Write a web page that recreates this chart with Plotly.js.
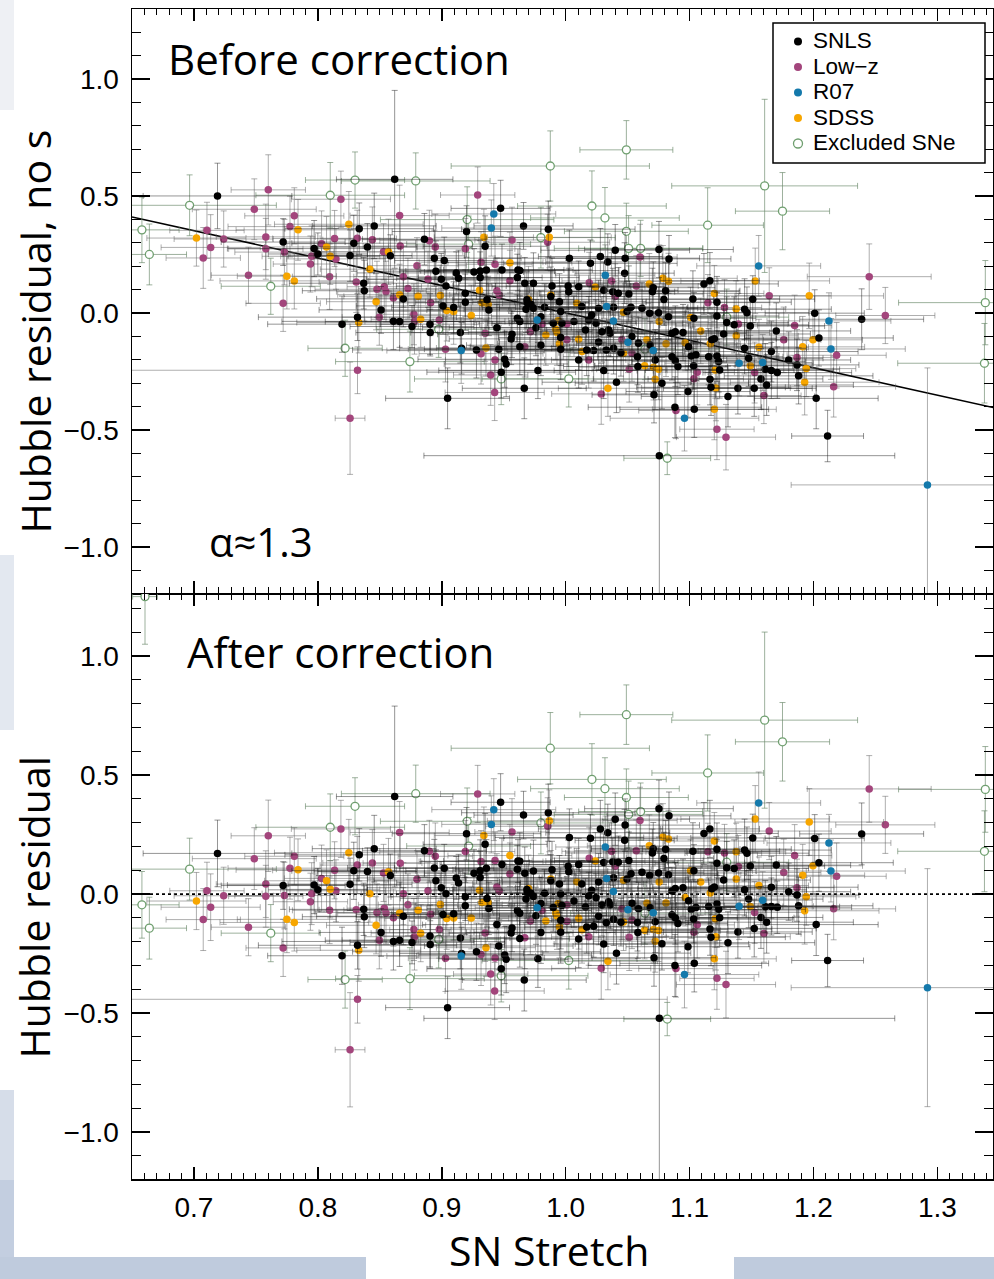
<!DOCTYPE html>
<html><head><meta charset="utf-8">
<script src="https://cdn.plot.ly/plotly-3.0.1.min.js"></script>
<style>html,body{margin:0;padding:0;background:#fff;} #chart{width:994px;height:1279px;}</style>
</head><body><div id="chart"></div>
<script>
// ---------------- DATA ----------------
// SNLS
const snlsS = [0.719,0.772,0.797,0.800,0.826,0.8195,0.832,0.9047,0.862,0.9475,
0.920,0.935,0.966,0.986,0.8455,0.8334,0.840,0.829,0.8585,0.886,
0.894,0.902,0.8953,0.8996,0.9117,0.9136,0.9034,0.837,0.8375,0.869,
0.851,0.861,0.866,0.876,0.8905,0.8907,0.901,0.9096,0.919,0.919,
0.931,0.931,0.926,0.936,0.9486,0.9615,0.963,0.961,0.967,0.974,
0.9365,0.938,0.9445,0.915,0.928,0.916,0.946,0.9508,0.952,0.948,
0.9666,0.9776,0.9567,0.956,0.963,0.961,0.963,0.969,0.9687,0.972,
0.974,0.968,0.976,0.980,0.980,0.983,0.989,0.988,0.990,0.995,
0.996,0.997,0.996,0.996,1.003,1.002,1.0025,1.0756,1.040,1.028,
1.020,1.034,1.048,1.0476,1.0753,1.0834,1.0105,1.0307,1.038,1.0425,
1.051,1.0707,1.070,1.0807,1.0793,1.013,1.0266,1.0387,1.0495,1.0527,
1.0616,1.0678,1.083,1.075,1.021,1.0186,1.0067,1.016,1.0245,1.0293,
1.0347,1.036,1.0266,1.017,1.0226,1.0105,1.0328,1.0387,1.0535,1.0446,
1.058,1.0588,1.0683,1.0723,1.0583,1.0307,1.041,1.0777,1.0713,1.0858,
1.0885,1.0947,1.0858,1.0885,1.0906,1.0882,1.1038,1.0987,1.1033,1.1014,
1.1052,1.0992,1.1027,1.1035,1.1116,1.1164,1.1221,1.1221,1.1275,1.118,
1.120,1.1154,1.1221,1.1235,1.1243,1.1165,1.1173,1.131,1.130,1.136,
1.1444,1.1463,1.149,1.151,1.170,1.166,1.1444,1.1477,1.1576,1.1611,
1.166,1.1708,1.1622,1.1522,1.139,1.180,1.201,1.2389,1.2044,1.1867,
1.188,1.2022,1.2114];
const snlsNoS = [0.50,0.303,0.275,0.252,0.245,-0.048,-0.018,-0.365,0.571,0.447,
0.348,0.285,0.372,0.358,0.372,0.360,0.282,0.298,0.244,0.315,
0.234,0.224,0.178,0.144,0.171,0.148,0.115,0.127,0.095,0.060,
0.013,-0.036,-0.037,-0.058,-0.048,-0.084,0.030,0.023,0.084,0.046,
0.151,0.179,0.175,0.184,0.184,0.184,0.181,0.151,0.127,0.127,
0.056,0.013,-0.063,-0.084,-0.158,-0.151,-0.155,-0.198,-0.218,-0.253,
-0.322,-0.246,-0.091,-0.111,-0.144,-0.023,-0.037,0.044,0.056,0.037,
0.020,0.016,-0.063,-0.016,-0.138,0.024,0.115,0.070,-0.044,0.048,
0.006,-0.044,-0.105,-0.155,0.234,0.115,0.091,-0.61,0.268,0.241,
0.212,0.218,0.234,0.170,0.271,0.231,0.112,0.097,0.091,0.084,
0.081,0.108,0.091,0.095,0.057,0.027,0.020,0.024,0.006,0.024,
0.020,-0.001,-0.016,0.001,-0.009,-0.030,-0.037,-0.073,-0.044,-0.080,
-0.073,-0.087,-0.124,-0.158,-0.161,-0.201,-0.158,-0.151,-0.101,-0.170,
-0.187,-0.130,-0.137,-0.201,-0.229,-0.246,-0.296,-0.300,-0.350,-0.087,
-0.080,-0.084,-0.187,-0.204,-0.229,-0.403,-0.412,-0.336,-0.226,-0.184,
-0.179,-0.144,0.060,-0.023,0.124,0.138,0.046,-0.013,-0.090,-0.115,
-0.110,-0.187,-0.184,-0.208,-0.244,-0.283,-0.318,-0.357,-0.041,-0.051,
0.016,0.001,-0.056,0.059,-0.077,-0.165,-0.151,-0.194,-0.282,-0.241,
-0.246,-0.255,-0.308,-0.322,-0.322,-0.201,-0.001,-0.027,-0.107,-0.222,
-0.269,-0.365,-0.526];
const snlsCorr = [0.171,0.036,0.038,0.018,0.041,-0.259,-0.215,-0.477,0.41,0.386,
0.254,0.209,0.332,0.342,0.191,0.165,0.095,0.098,0.078,0.182,
0.110,0.109,0.056,0.027,0.068,0.047,0.002,-0.064,-0.095,-0.093,
-0.161,-0.199,-0.194,-0.203,-0.176,-0.212,-0.086,-0.083,-0.011,-0.049,
0.070,0.098,0.088,0.109,0.124,0.139,0.138,0.105,0.088,0.097,
-0.018,-0.060,-0.128,-0.184,-0.242,-0.249,-0.218,-0.256,-0.274,-0.314,
-0.361,-0.272,-0.142,-0.163,-0.187,-0.069,-0.080,0.008,0.019,0.004,
-0.010,-0.021,-0.091,-0.039,-0.161,0.004,0.102,0.056,-0.056,0.042,
0.001,-0.048,-0.110,-0.160,0.238,0.117,0.094,-0.522,0.315,0.274,
0.235,0.258,0.290,0.226,0.359,0.329,0.124,0.133,0.136,0.134,
0.141,0.191,0.173,0.189,0.150,0.042,0.051,0.069,0.064,0.086,
0.092,0.078,0.081,0.089,0.016,-0.008,-0.029,-0.054,-0.015,-0.046,
-0.032,-0.045,-0.093,-0.138,-0.135,-0.189,-0.120,-0.106,-0.038,-0.118,
-0.119,-0.061,-0.057,-0.116,-0.161,-0.210,-0.248,-0.209,-0.267,0.013,
0.024,0.027,-0.087,-0.100,-0.123,-0.300,-0.291,-0.221,-0.105,-0.065,
-0.056,-0.028,0.180,0.098,0.255,0.274,0.189,0.130,0.059,0.023,
0.030,-0.052,-0.041,-0.064,-0.099,-0.147,-0.181,-0.204,0.111,0.108,
0.185,0.172,0.118,0.236,0.122,0.029,0.018,-0.021,-0.098,-0.053,
-0.052,-0.055,-0.118,-0.144,-0.159,0.010,0.234,0.253,0.132,-0.004,
-0.049,-0.128,-0.279];
const snlsErrS = [0.06,0.05,0.07,0.04,0.05,0.06,0.08,0.05,0.047,0.04,
0.06,0.05,0.04,0.07,0.05,0.06,0.04,0.05,0.06,0.05,
0.07,0.04,0.05,0.06,0.08,0.05,0.04,0.06,0.05,0.07,
0.05,0.09,0.06,0.05,0.04,0.06,0.07,0.05,0.06,0.04,
0.05,0.06,0.04,0.07,0.05,0.06,0.08,0.05,0.04,0.06,
0.07,0.05,0.06,0.04,0.10,0.05,0.06,0.07,0.05,0.06,
0.05,0.08,0.06,0.05,0.04,0.06,0.07,0.05,0.06,0.04,
0.06,0.05,0.07,0.04,0.06,0.05,0.08,0.06,0.05,0.07,
0.04,0.06,0.05,0.07,0.06,0.05,0.04,0.19,0.06,0.05,
0.07,0.05,0.06,0.04,0.06,0.05,0.07,0.06,0.05,0.04,
0.06,0.05,0.07,0.06,0.04,0.05,0.08,0.06,0.05,0.07,
0.05,0.06,0.04,0.07,0.05,0.06,0.05,0.04,0.07,0.06,
0.05,0.06,0.08,0.05,0.04,0.06,0.07,0.05,0.06,0.05,
0.06,0.05,0.07,0.05,0.06,0.04,0.06,0.07,0.05,0.06,
0.05,0.07,0.06,0.05,0.04,0.07,0.06,0.05,0.08,0.06,
0.05,0.06,0.07,0.05,0.06,0.04,0.06,0.05,0.07,0.06,
0.05,0.06,0.05,0.07,0.06,0.05,0.06,0.07,0.05,0.06,
0.07,0.05,0.06,0.05,0.06,0.07,0.05,0.06,0.05,0.06,
0.05,0.06,0.07,0.05,0.06,0.05,0.04,0.05,0.06,0.05,
0.06,0.05,0.029];
const snlsErrRes = [0.14,0.10,0.12,0.09,0.11,0.12,0.10,0.13,0.38,0.12,
0.11,0.13,0.10,0.12,0.14,0.11,0.10,0.12,0.09,0.11,
0.12,0.10,0.13,0.11,0.09,0.12,0.10,0.11,0.13,0.12,
0.10,0.12,0.11,0.09,0.13,0.10,0.12,0.11,0.10,0.12,
0.11,0.13,0.10,0.12,0.11,0.09,0.12,0.10,0.11,0.13,
0.12,0.11,0.10,0.13,0.12,0.11,0.10,0.12,0.14,0.11,
0.13,0.12,0.10,0.11,0.12,0.10,0.11,0.09,0.12,0.10,
0.11,0.10,0.12,0.11,0.13,0.10,0.12,0.11,0.10,0.12,
0.11,0.10,0.12,0.13,0.12,0.11,0.10,0.90,0.11,0.12,
0.10,0.12,0.11,0.13,0.12,0.10,0.11,0.12,0.10,0.11,
0.12,0.11,0.10,0.12,0.11,0.10,0.12,0.11,0.13,0.10,
0.11,0.12,0.10,0.11,0.12,0.10,0.11,0.12,0.10,0.13,
0.11,0.10,0.12,0.11,0.13,0.12,0.10,0.11,0.12,0.10,
0.12,0.11,0.10,0.13,0.11,0.12,0.13,0.11,0.12,0.10,
0.11,0.12,0.10,0.11,0.12,0.13,0.12,0.11,0.10,0.12,
0.11,0.10,0.12,0.11,0.13,0.12,0.11,0.10,0.12,0.11,
0.10,0.12,0.11,0.13,0.12,0.11,0.12,0.13,0.11,0.12,
0.13,0.11,0.12,0.10,0.12,0.13,0.11,0.12,0.13,0.11,
0.12,0.11,0.13,0.12,0.11,0.12,0.10,0.13,0.12,0.11,
0.12,0.13,0.11];

// Low-z
const lowzS = [0.7105,0.7135,0.7075,0.724,0.760,0.7487,0.744,0.758,0.758,0.781,
0.7775,0.772,0.773,0.794,0.795,0.803,0.8135,0.8146,0.8095,0.8186,
0.826,0.832,0.929,0.919,0.9567,0.9855,0.866,0.8318,0.844,0.8665,
0.853,0.890,0.8948,0.880,0.831,0.8477,0.8536,0.855,0.861,0.8727,
0.891,0.8889,0.869,0.8496,0.878,0.8775,0.898,0.903,0.9317,0.943,
0.955,0.9445,0.9464,0.9317,0.935,0.943,0.9395,0.9427,0.967,0.9715,
0.981,1.001,1.001,1.060,1.057,1.037,1.019,1.040,1.0186,1.0454,
1.0535,1.0513,1.0287,1.089,1.1035,1.1062,1.1148,1.1221,1.1294,1.1282,
1.1394,1.1643,1.176,1.1525,1.16,1.245,1.258,1.1848,1.2187,1.1867,
1.2163];
const lowzNoS = [0.353,0.28,0.235,0.316,0.526,0.443,0.161,0.325,0.274,0.415,
0.369,0.041,0.26,0.209,0.242,0.296,0.318,0.231,0.155,0.486,
-0.45,-0.245,0.504,0.274,0.312,0.302,0.416,0.319,0.313,0.286,
0.261,0.309,0.282,0.202,0.132,0.101,0.112,0.091,0.064,0.104,
0.043,0.144,0.155,-0.018,-0.036,-0.006,-0.030,-0.155,0.217,0.208,
0.138,0.095,0.077,-0.174,-0.087,-0.201,-0.265,-0.340,-0.144,-0.080,
-0.047,-0.115,-0.047,0.239,0.115,0.137,0.129,0.070,-0.201,-0.115,
-0.172,-0.241,-0.346,-0.417,-0.281,-0.253,0.044,-0.497,-0.531,0.023,
-0.047,0.073,-0.115,-0.255,-0.353,0.155,-0.011,-0.054,-0.181,-0.191,
-0.315];
const lowzCorr = [0.014,-0.055,-0.107,-0.007,0.245,0.149,-0.139,0.042,-0.009,0.159,
0.109,-0.226,-0.006,-0.032,0.002,0.066,0.100,0.014,-0.068,0.274,
-0.654,-0.442,0.421,0.179,0.261,0.285,0.259,0.122,0.131,0.130,
0.089,0.180,0.159,0.062,-0.066,-0.077,-0.059,-0.079,-0.099,-0.045,
-0.085,0.014,0.002,-0.194,-0.179,-0.149,-0.149,-0.269,0.137,0.141,
0.085,0.030,0.014,-0.254,-0.163,-0.268,-0.336,-0.407,-0.183,-0.113,
-0.069,-0.114,-0.046,0.309,0.182,0.180,0.151,0.117,-0.179,-0.062,
-0.109,-0.181,-0.312,-0.313,-0.160,-0.129,0.178,-0.354,-0.380,0.173,
0.116,0.265,0.091,-0.077,-0.166,0.442,0.291,0.162,0.075,0.027,
-0.062];
const lowzErrS = [0.03,0.04,0.03,0.04,0.03,0.05,0.03,0.04,0.03,0.04,
0.05,0.03,0.04,0.03,0.04,0.03,0.05,0.04,0.03,0.04,
0.012,0.25,0.03,0.04,0.03,0.05,0.04,0.03,0.04,0.03,
0.05,0.04,0.03,0.04,0.03,0.05,0.03,0.04,0.03,0.04,
0.03,0.05,0.04,0.03,0.04,0.03,0.04,0.03,0.05,0.03,
0.04,0.03,0.04,0.05,0.03,0.04,0.03,0.04,0.03,0.05,
0.04,0.03,0.04,0.03,0.05,0.04,0.03,0.04,0.03,0.04,
0.05,0.03,0.04,0.03,0.04,0.03,0.05,0.03,0.04,0.03,
0.04,0.05,0.03,0.04,0.03,0.05,0.04,0.03,0.04,0.03,
0.05];
const lowzErrRes = [0.12,0.14,0.13,0.12,0.15,0.13,0.12,0.14,0.13,0.12,
0.13,0.12,0.14,0.12,0.13,0.14,0.12,0.13,0.14,0.12,
0.24,0.10,0.12,0.13,0.14,0.12,0.13,0.12,0.14,0.13,
0.12,0.13,0.14,0.12,0.13,0.12,0.14,0.13,0.12,0.13,
0.14,0.12,0.13,0.12,0.14,0.13,0.12,0.14,0.13,0.12,
0.13,0.14,0.12,0.13,0.12,0.14,0.13,0.12,0.13,0.14,
0.12,0.13,0.12,0.14,0.13,0.12,0.13,0.14,0.12,0.13,
0.12,0.14,0.13,0.12,0.13,0.14,0.12,0.13,0.14,0.12,
0.13,0.12,0.14,0.13,0.12,0.14,0.12,0.13,0.14,0.12,
0.13];

// SDSS
const sdssS = [0.702,0.784,0.775,0.781,0.807,0.810,0.825,0.833,0.934,0.9868,
0.857,0.842,0.866,0.847,0.881,0.8988,0.883,0.904,0.9096,0.9305,
0.955,0.9325,0.9375,0.9238,0.9357,0.970,0.984,0.988,0.992,0.993,
0.994,0.995,1.0785,1.083,1.0675,1.024,1.009,1.0467,1.0755,1.0105,
1.0132,1.0467,1.0656,1.0637,1.0709,1.075,1.0341,1.0723,1.081,1.0965,
1.1008,1.109,1.12,1.1167,1.1207,1.1213,1.12,1.1376,1.1377,1.153,
1.156,1.149,1.1966,1.1996,1.1913,1.1942,1.1929];
const sdssNoS = [0.32,0.355,0.157,0.137,0.282,0.242,0.379,-0.041,0.323,0.323,
0.261,0.187,0.078,0.048,0.071,0.074,-0.027,0.010,0.006,0.097,
0.215,0.044,0.037,-0.011,-0.150,0.059,-0.094,0.077,-0.070,-0.084,
-0.033,-0.132,0.148,0.135,0.124,0.111,0.041,0.003,-0.037,-0.113,
-0.165,-0.172,-0.115,-0.226,-0.232,-0.241,-0.322,-0.283,-0.132,-0.127,
-0.020,-0.077,0.083,-0.132,-0.244,-0.321,-0.412,0.017,-0.098,0.137,
-0.147,-0.226,0.073,-0.115,-0.145,-0.238,-0.296];
const sdssCorr = [-0.029,0.102,-0.106,-0.119,0.056,0.020,0.174,-0.236,0.246,0.308,
0.094,0.002,-0.079,-0.131,-0.068,-0.044,-0.164,-0.102,-0.100,0.016,
0.162,-0.035,-0.036,-0.100,-0.225,0.024,-0.113,0.063,-0.079,-0.092,
-0.040,-0.138,0.240,0.232,0.203,0.139,0.052,0.058,0.051,-0.101,
-0.150,-0.117,-0.038,-0.152,-0.149,-0.153,-0.282,-0.198,-0.037,-0.014,
0.098,0.051,0.223,0.005,-0.103,-0.179,-0.272,0.178,0.063,0.316,
0.036,-0.052,0.303,0.119,0.079,-0.011,-0.070];
const sdssErrS = [0.04,0.05,0.04,0.06,0.05,0.04,0.06,0.05,0.04,0.05,
0.06,0.04,0.05,0.04,0.06,0.05,0.04,0.05,0.06,0.04,
0.05,0.06,0.04,0.05,0.04,0.06,0.05,0.04,0.05,0.06,
0.04,0.05,0.06,0.04,0.05,0.04,0.06,0.05,0.04,0.05,
0.06,0.04,0.05,0.04,0.06,0.05,0.04,0.05,0.06,0.04,
0.05,0.06,0.04,0.05,0.04,0.06,0.05,0.04,0.05,0.06,
0.04,0.05,0.06,0.04,0.05,0.04,0.06];
const sdssErrRes = [0.12,0.13,0.14,0.12,0.13,0.12,0.14,0.13,0.12,0.13,
0.14,0.12,0.13,0.12,0.14,0.13,0.12,0.13,0.14,0.12,
0.13,0.14,0.12,0.13,0.12,0.14,0.13,0.12,0.13,0.14,
0.12,0.13,0.14,0.12,0.13,0.12,0.14,0.13,0.12,0.13,
0.14,0.12,0.13,0.12,0.14,0.13,0.12,0.13,0.14,0.12,
0.13,0.14,0.12,0.13,0.12,0.14,0.13,0.12,0.13,0.14,
0.12,0.13,0.14,0.12,0.13,0.12,0.14];

// R07
const r07S = [0.942,0.940,0.9157,0.977,1.032,1.033,1.0385,1.0503,1.0707,1.0959,1.1558,1.159,1.140,1.2125,1.2141,1.292];
const r07NoS = [0.423,0.363,-0.161,-0.030,0.161,0.027,-0.034,-0.125,-0.161,-0.450,0.201,-0.212,-0.215,-0.034,-0.154,-0.735];
const r07Corr = [0.355,0.293,-0.260,-0.057,0.198,0.066,0.011,-0.066,-0.078,-0.338,0.383,-0.026,-0.051,0.215,0.097,-0.393];
const r07ErrS = [0.05,0.04,0.06,0.05,0.04,0.05,0.06,0.04,0.05,0.06,0.05,0.04,0.06,0.05,0.06,0.11];
const r07ErrRes = [0.13,0.12,0.14,0.12,0.13,0.12,0.14,0.13,0.12,0.14,0.13,0.12,0.14,0.12,0.13,0.50];

// Excluded SNe
const exclS = [0.6605,0.658,0.664,0.6965,0.762,0.810,0.822,0.8743,0.830,0.879,0.9876,0.9205,0.9217,0.980,0.8975,0.948,1.0025,1.049,1.0212,1.0317,1.049,1.1146,1.1606,1.175,1.0508,1.0605,1.130,1.064,1.082,1.3387,1.338];
const exclNoS = [1.647,0.355,0.25,0.46,0.114,0.503,-0.151,-0.208,0.568,0.564,0.628,0.399,0.294,0.322,-0.070,-0.282,-0.282,0.697,0.457,0.406,0.349,0.375,0.543,0.435,0.276,0.276,-0.018,-0.155,-0.621,0.044,-0.215];
const exclCorr = [1.25,-0.045,-0.143,0.105,-0.164,0.281,-0.359,-0.355,0.369,0.422,0.613,0.306,0.202,0.299,-0.190,-0.343,-0.279,0.754,0.482,0.443,0.406,0.509,0.731,0.640,0.335,0.347,0.134,-0.080,-0.525,0.44,0.18];
const exclErrS = [0.01,0.03,0.03,0.07,0.04,0.06,0.03,0.06,0.04,0.06,0.08,0.07,0.05,0.06,0.05,0.07,0.07,0.0375,0.06,0.06,0.05,0.045,0.075,0.038,0.06,0.05,0.05,0.06,0.035,0.07,0.07];
const exclErrRes = [0.2,0.14,0.13,0.13,0.12,0.14,0.12,0.13,0.12,0.12,0.15,0.14,0.12,0.13,0.12,0.11,0.12,0.125,0.15,0.13,0.12,0.16,0.37,0.165,0.14,0.12,0.12,0.13,0.07,0.18,0.17];

// Fit line (before correction) and zero reference (after correction)
const fitS = [0.65, 1.35];
const fitRes = [0.41, -0.41];
const zeroS = [0.65, 1.35];
const zeroRes = [0, 0];

const xTickVals = [0.7, 0.8, 0.9, 1.0, 1.1, 1.2, 1.3];
const yTickVals = [-1.0, -0.5, 0.0, 0.5, 1.0];
const legendLabels = ['SNLS', 'Low\u2212z', 'R07', 'SDSS', 'Excluded SNe'];

// ---------------- LAYOUT HELPERS ----------------
const W = 994, H = 1279, ML = 132, MR = 1, MT = 9, MB = 100;
const PW = W - ML - MR, PH = H - MT - MB;
const xp = px => (px - ML) / PW;
const yp = py => (H - MB - py) / PH;

const COLORS = {SNLS:'#000000', 'Low\u2212z':'#a3457c', R07:'#1479ab', SDSS:'#f7a600', 'Excluded SNe':'#6f9f6f'};

const groups = [
  {name:'Excluded SNe', s:exclS, es:exclErrS, r0:exclNoS, r1:exclCorr, er:exclErrRes, open:true, ec:'rgba(105,135,105,0.65)'},
  {name:'Low\u2212z', s:lowzS, es:lowzErrS, r0:lowzNoS, r1:lowzCorr, er:lowzErrRes, ec:'rgba(95,95,95,0.5)'},
  {name:'SDSS', s:sdssS, es:sdssErrS, r0:sdssNoS, r1:sdssCorr, er:sdssErrRes, ec:'rgba(95,95,95,0.5)'},
  {name:'SNLS', s:snlsS, es:snlsErrS, r0:snlsNoS, r1:snlsCorr, er:snlsErrRes, ec:'rgba(20,20,20,0.45)'},
  {name:'R07', s:r07S, es:r07ErrS, r0:r07NoS, r1:r07Corr, er:r07ErrRes, ec:'rgba(95,95,95,0.5)'}
];

const traces = [];
traces.push({x:fitS, y:fitRes, xaxis:'x', yaxis:'y', mode:'lines', line:{color:'black', width:1.6}, showlegend:false, hoverinfo:'skip'});
traces.push({x:zeroS, y:zeroRes, xaxis:'x2', yaxis:'y2', mode:'lines', line:{color:'black', width:1.8, dash:'dot'}, showlegend:false, hoverinfo:'skip'});

groups.forEach(g => {
  const c = COLORS[g.name];
  const marker = g.open ? {size:8, color:'white', line:{color:c, width:1.3}} : {size:7.5, color:c};
  [['x','y',g.r0],['x2','y2',g.r1]].forEach(([xa,ya,yv]) => {
    traces.push({
      x:g.s, y:yv, xaxis:xa, yaxis:ya, type:'scatter', mode:'markers', name:g.name,
      showlegend:false, cliponaxis:true, marker:marker,
      error_x:{type:'data', array:g.es, visible:true, color:g.ec, thickness:1, width:3},
      error_y:{type:'data', array:g.er, visible:true, color:g.ec, thickness:1, width:3}
    });
  });
});

const tickFont = {family:'Liberation Sans, Arial, Helvetica, sans-serif', size:28, color:'black'};
const xBase = {
  range:[0.65, 1.3449], showgrid:false, zeroline:false, showline:true, linecolor:'black', linewidth:1.5,
  mirror:'ticks', ticks:'inside', ticklen:12, tickwidth:1.5, tickcolor:'black',
  tickmode:'array', tickvals:xTickVals, ticktext:xTickVals.map(v=>v.toFixed(1)),
  minor:{dtick:0.01, tick0:0, ticklen:6, tickwidth:1, tickcolor:'black', ticks:'inside', showgrid:false},
  tickfont:tickFont
};
const yBase = {
  showgrid:false, zeroline:false, showline:true, linecolor:'black', linewidth:1.5,
  mirror:'ticks', ticks:'inside', ticklen:18, tickwidth:1.5, tickcolor:'black',
  tickmode:'array', tickvals:yTickVals, ticktext:yTickVals.map(v=>(v<0?'\u2212':'')+Math.abs(v).toFixed(1)),
  minor:{dtick:0.1, tick0:0, ticklen:9, tickwidth:1, tickcolor:'black', ticks:'inside', showgrid:false},
  tickfont:tickFont, ticklabelstandoff:6
};

const titleFont = {family:'Open Sans, Lato, sans-serif', size:42, color:'black'};
const annotations = [
  {text:'Before correction', xref:'paper', yref:'paper', x:xp(166), y:yp(58.7), xanchor:'left', yanchor:'middle', showarrow:false, font:titleFont},
  {text:'After correction', xref:'paper', yref:'paper', x:xp(185), y:yp(651.7), xanchor:'left', yanchor:'middle', showarrow:false, font:titleFont},
  {text:'\u03b1\u22481.3', xref:'paper', yref:'paper', x:xp(207), y:yp(541.5), xanchor:'left', yanchor:'middle', showarrow:false, font:{family:'Open Sans, sans-serif', size:40, color:'black'}},
  {text:'Hubble residual, no s', xref:'paper', yref:'paper', x:xp(34), y:yp(331.5), xanchor:'center', yanchor:'middle', textangle:-90, showarrow:false, font:{family:'Open Sans, sans-serif', size:41, color:'black'}},
  {text:'Hubble residual', xref:'paper', yref:'paper', x:xp(34), y:yp(907.5), xanchor:'center', yanchor:'middle', textangle:-90, showarrow:false, font:{family:'Open Sans, sans-serif', size:41, color:'black'}},
  {text:'SN Stretch', xref:'paper', yref:'paper', x:xp(549), y:yp(1250), xanchor:'center', yanchor:'middle', showarrow:false, borderpad:0, font:{family:'Open Sans, sans-serif', size:41, color:'black'}}
];

const rectPx = (x0,x1,y0,y1,c,extra) => Object.assign({type:'rect', xref:'paper', yref:'paper', x0:xp(x0), x1:xp(x1), y0:yp(y1), y1:yp(y0), fillcolor:c, line:{width:0}, layer:'below'}, extra||{});
const shapes = [
  rectPx(0,14,0,110,'#eef0f4'),
  rectPx(0,14,555,730,'#e3e8f0'),
  rectPx(0,14,1090,1180,'#d6dde9'),
  rectPx(0,14,1180,1279,'#c3cee0'),
  rectPx(0,366,1257,1279,'#bfcbdd'),
  rectPx(734,994,1257,1279,'#bfcbdd'),
  // legend box
  rectPx(773,985,23,163,'white',{layer:'above', line:{color:'black', width:1.5}})
];

// legend entries (box drawn above the data, like the reference)
const rowY = [41.5, 67, 92.5, 118, 143.5];
legendLabels.forEach((lab, i) => {
  const c = COLORS[lab];
  const open = lab === 'Excluded SNe';
  const r = open ? 4.5 : 4;
  shapes.push({type:'circle', xref:'paper', yref:'paper', layer:'above',
    x0:xp(798-r), x1:xp(798+r), y0:yp(rowY[i]+r), y1:yp(rowY[i]-r),
    fillcolor: open ? 'white' : c, line: open ? {color:c, width:1.3} : {width:0}});
  annotations.push({text:lab, xref:'paper', yref:'paper', x:xp(812), y:yp(rowY[i]-1), xanchor:'left', yanchor:'middle',
    showarrow:false, borderpad:0, font:{family:'Liberation Sans, Arial, sans-serif', size:22.5, color:'black'}});
});

const layout = {
  width:W, height:H, margin:{l:ML, r:MR, t:MT, b:MB},
  paper_bgcolor:'white', plot_bgcolor:'white',
  showlegend:false,
  xaxis:Object.assign({}, xBase, {anchor:'y', showticklabels:false}),
  xaxis2:Object.assign({}, xBase, {anchor:'y2', ticklabelstandoff:3}),
  yaxis:Object.assign({}, yBase, {range:[-1.197, 1.299], domain:[yp(593), 1], anchor:'x'}),
  yaxis2:Object.assign({}, yBase, {range:[-1.197, 1.261], domain:[0, yp(594)], anchor:'x2'}),
  annotations:annotations,
  shapes:shapes
};

Plotly.newPlot('chart', traces, layout, {staticPlot:true, displayModeBar:false});
</script>
</body></html>
